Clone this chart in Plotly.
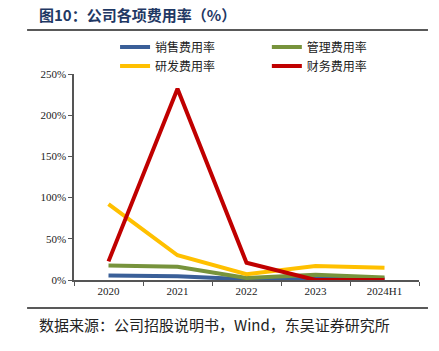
import plotly.graph_objects as go

categories = ["2020", "2021", "2022", "2023", "2024H1"]
sales_rate = [5.6, 4.4, 1.0, 2.0, 1.5]
admin_rate = [17.5, 16.0, 2.5, 6.5, 3.0]
rd_rate = [92.0, 30.0, 7.0, 17.0, 15.0]
fin_rate = [22.6, 232.0, 21.0, 0.0, 0.0]

series_names = ["销售费用率", "管理费用率", "研发费用率", "财务费用率"]
series_values = [sales_rate, admin_rate, rd_rate, fin_rate]
series_colors = ["#3a5f98", "#77933c", "#ffc000", "#c00000"]
series_legend = ["legend", "legend2", "legend3", "legend4"]

y_ticks = [0, 50, 100, 150, 200, 250]
y_tick_labels = ["0%", "50%", "100%", "150%", "200%", "250%"]

CJK = "Noto Sans CJK SC"
SERIF = "Liberation Serif"

fig = go.Figure()
for name, vals, col, lg in zip(series_names, series_values, series_colors, series_legend):
    fig.add_trace(go.Scatter(x=categories, y=vals, name=name, mode="lines",
                             line=dict(color=col, width=4), legend=lg))

leg_common = dict(orientation="h", xanchor="left", yanchor="middle",
                  font=dict(family=CJK, size=12, color="#222"),
                  itemwidth=30, bgcolor="rgba(0,0,0,0)")

col1_x, col2_x = 0.119, 0.559
row1_y, row2_y = 1.131, 1.039

fig.update_layout(
    width=439, height=351,
    margin=dict(l=74, r=20, t=74, b=71),
    paper_bgcolor="white", plot_bgcolor="white",
    showlegend=True,
    legend=dict(x=col1_x, y=row1_y, **leg_common),
    legend2=dict(x=col2_x, y=row1_y, **leg_common),
    legend3=dict(x=col1_x, y=row2_y, **leg_common),
    legend4=dict(x=col2_x, y=row2_y, **leg_common),
    xaxis=dict(type="category", range=[-0.5, 4.5], tickson="boundaries",
               ticks="outside", ticklen=4, tickcolor="#555", showline=True,
               linecolor="#555", linewidth=1.5, showgrid=False, zeroline=False,
               tickfont=dict(family=SERIF, size=11, color="#222")),
    yaxis=dict(range=[0, 250], tickvals=y_ticks, ticktext=y_tick_labels,
               ticks="outside", ticklen=4, tickcolor="#555", showline=True,
               linecolor="#555", linewidth=1.5, showgrid=False, zeroline=False,
               tickfont=dict(family=SERIF, size=11, color="#222")),
)

fig.add_annotation(text="<b>图10：公司各项费用率（%）</b>", xref="paper", yref="paper",
                   x=-0.107, xanchor="left", y=1.291, yanchor="middle", showarrow=False,
                   font=dict(family=CJK, size=15, color="#1f3864"))
fig.add_shape(type="line", xref="paper", yref="paper", x0=-0.136, x1=1.026,
              y0=1.214, y1=1.214, line=dict(color="#222", width=1.5))
fig.add_shape(type="line", xref="paper", yref="paper", x0=-0.136, x1=1.026,
              y0=-0.136, y1=-0.136, line=dict(color="#222", width=1.5))
fig.add_annotation(text="数据来源：公司招股说明书，Wind，东吴证券研究所", xref="paper", yref="paper",
                   x=-0.107, xanchor="left", y=-0.218, yanchor="middle", showarrow=False,
                   font=dict(family=CJK, size=15, color="#222"))

fig.write_html("out.html")
